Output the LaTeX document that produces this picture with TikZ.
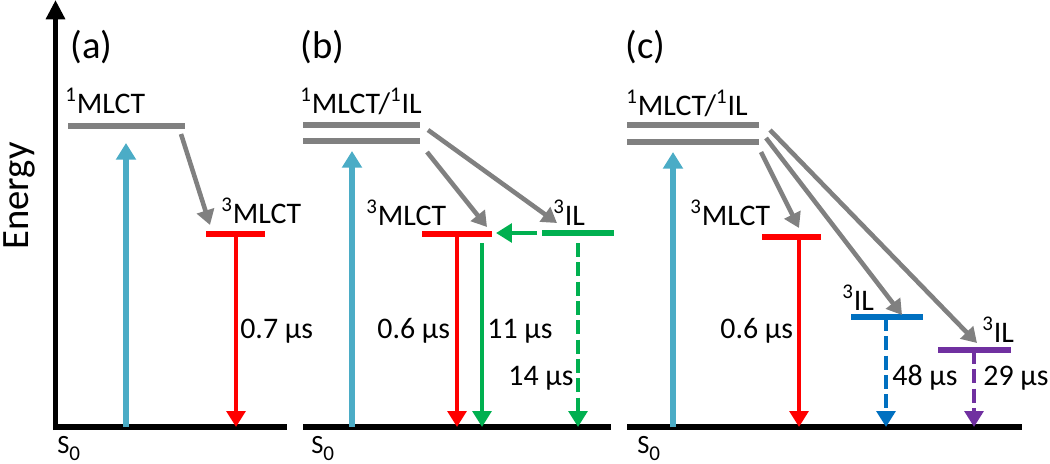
\documentclass[tikz,border=0pt]{standalone}
\usepackage{fontspec}
\setmainfont{Carlito}
\usetikzlibrary{arrows.meta}
\definecolor{excitecolor}{RGB}{75,172,198}
\definecolor{levelgray}{RGB}{128,128,128}
\definecolor{mlctred}{RGB}{255,0,0}
\definecolor{ilgreen}{RGB}{0,176,80}
\definecolor{ilblue}{RGB}{0,112,192}
\definecolor{ilpurple}{RGB}{112,48,160}
\newcommand{\groundname}{S\raisebox{-4pt}{\fontsize{12}{14}\selectfont 0}}

\begin{document}
\begin{tikzpicture}[
    x=0.02cm, y=-0.02cm,
    axis/.style={line width=3.2pt, -{Triangle[length=11pt,width=10.5pt]}},
    ground/.style={line width=3.3pt},
    level/.style={line width=3.1pt},
    excite/.style={draw=excitecolor, line width=3pt, -{Triangle[length=9.5pt,width=11pt]}},
    isc/.style={draw=levelgray, line width=2.6pt, -{Triangle[length=8.5pt,width=10pt]}},
    decay/.style={line width=2.8pt, -{Triangle[length=9pt,width=10.5pt]}},
    dashdecay/.style={decay, dash pattern=on 8pt off 3pt},
    txt/.style={anchor=base west, inner sep=0pt, font=\fontsize{17}{20}\selectfont},
    snode/.style={anchor=base west, inner sep=0pt, font=\fontsize{15}{18}\selectfont},
    panel/.style={anchor=west, inner sep=0pt, font=\fontsize{22}{26}\selectfont}
]
\useasboundingbox (0,0) rectangle (1050,463);

% Axis
\coordinate (origin) at (55.5,430);
\coordinate (top) at (55.5,0);
\draw[axis] (origin) -- (top);
\node[rotate=90, font=\fontsize{22}{26}\selectfont] (energy) at (19,196) {Energy};

% Panel (a)
\draw[ground] (53,427) coordinate (a-g0) -- (287,427) coordinate (a-g1);
\draw[level, levelgray] (68,126) coordinate (a-s0) -- (185,126) coordinate (a-s1);
\draw[level, mlctred] (206,234) coordinate (a-t0) -- (265,234) coordinate (a-t1);
\coordinate (a-up0) at (126,427);
\coordinate (a-up1) at (126,143);
\coordinate (a-isc0) at (181,134);
\coordinate (a-isc1) at (210,225);
\coordinate (a-dn0) at (236,234);
\coordinate (a-dn1) at (236,427);
\draw[excite] (a-up0) -- (a-up1);
\draw[isc] (a-isc0) -- (a-isc1);
\draw[decay, mlctred] (a-dn0) -- (a-dn1);
\node[panel] (a-name) at (70,47) {(a)};
\node[txt] (a-lbl1) at (65,113) {\textsuperscript{1}MLCT};
\node[txt] (a-lbl3) at (221,223) {\textsuperscript{3}MLCT};
\node[txt] (a-tau) at (240,338) {0.7 µs};
\node[snode] (a-s) at (57,453) {\groundname};

% Panel (b)
\draw[ground] (303,427) coordinate (b-g0) -- (611,427) coordinate (b-g1);
\draw[level, levelgray] (303,125) coordinate (b-s0) -- (420,125) coordinate (b-s1);
\draw[level, levelgray] (303,141) coordinate (b-s2) -- (420,141) coordinate (b-s3);
\draw[level, mlctred] (422,234) coordinate (b-t0) -- (492,234) coordinate (b-t1);
\draw[level, ilgreen] (542,233) coordinate (b-il0) -- (614,233) coordinate (b-il1);
\coordinate (b-up0) at (352,427);
\coordinate (b-up1) at (352,151);
\coordinate (b-isc0) at (427,152);
\coordinate (b-isc1) at (487,227);
\coordinate (b-isc2) at (428,130);
\coordinate (b-isc3) at (557,223);
\coordinate (b-ic0) at (537,233);
\coordinate (b-ic1) at (496,233);
\coordinate (b-dn0) at (457,234);
\coordinate (b-dn1) at (457,427);
\coordinate (b-dn2) at (482,243);
\coordinate (b-dn3) at (482,427);
\coordinate (b-dn4) at (578,243);
\coordinate (b-dn5) at (578,427);
\draw[excite] (b-up0) -- (b-up1);
\draw[isc] (b-isc0) -- (b-isc1);
\draw[isc] (b-isc2) -- (b-isc3);
\draw[decay, ilgreen] (b-ic0) -- (b-ic1);
\draw[decay, mlctred] (b-dn0) -- (b-dn1);
\draw[decay, ilgreen] (b-dn2) -- (b-dn3);
\draw[dashdecay, ilgreen] (b-dn4) -- (b-dn5);
\node[panel] (b-name) at (300,47) {(b)};
\node[txt] (b-lbl1) at (300,113) {\textsuperscript{1}MLCT/\textsuperscript{1}IL};
\node[txt] (b-lbl3) at (366,225) {\textsuperscript{3}MLCT};
\node[txt] (b-lbl4) at (553,225) {\textsuperscript{3}IL};
\node[txt] (b-tau1) at (377,338) {0.6 µs};
\node[txt] (b-tau2) at (487,338) {11 µs};
\node[txt] (b-tau3) at (508,385) {14 µs};
\node[snode] (b-s) at (311,453) {\groundname};

% Panel (c)
\draw[ground] (627,427) coordinate (c-g0) -- (1022,427) coordinate (c-g1);
\draw[level, levelgray] (627,125) coordinate (c-s0) -- (759,125) coordinate (c-s1);
\draw[level, levelgray] (627,142) coordinate (c-s2) -- (759,142) coordinate (c-s3);
\draw[level, mlctred] (762,237) coordinate (c-t0) -- (821,237) coordinate (c-t1);
\draw[level, ilblue] (851,317) coordinate (c-b0) -- (923,317) coordinate (c-b1);
\draw[level, ilpurple] (938,350) coordinate (c-p0) -- (1011,350) coordinate (c-p1);
\coordinate (c-up0) at (673,427);
\coordinate (c-up1) at (673,152);
\coordinate (c-isc0) at (761,152);
\coordinate (c-isc1) at (799,228);
\coordinate (c-isc2) at (766,138);
\coordinate (c-isc3) at (902,315);
\coordinate (c-isc4) at (770,130);
\coordinate (c-isc5) at (977,343);
\coordinate (c-dn0) at (799,237);
\coordinate (c-dn1) at (799,427);
\coordinate (c-dn2) at (886,317);
\coordinate (c-dn3) at (886,427);
\coordinate (c-dn4) at (974,350);
\coordinate (c-dn5) at (974,427);
\draw[excite] (c-up0) -- (c-up1);
\draw[isc] (c-isc0) -- (c-isc1);
\draw[isc] (c-isc2) -- (c-isc3);
\draw[isc] (c-isc4) -- (c-isc5);
\draw[decay, mlctred] (c-dn0) -- (c-dn1);
\draw[dashdecay, ilblue] (c-dn2) -- (c-dn3);
\draw[dashdecay, ilpurple] (c-dn4) -- (c-dn5);
\node[panel] (c-name) at (625,47) {(c)};
\node[txt] (c-lbl1) at (626,115) {\textsuperscript{1}MLCT/\textsuperscript{1}IL};
\node[txt] (c-lbl3) at (690,225) {\textsuperscript{3}MLCT};
\node[txt] (c-lbl4) at (842,310) {\textsuperscript{3}IL};
\node[txt] (c-lbl5) at (982,342) {\textsuperscript{3}IL};
\node[txt] (c-tau1) at (720,338) {0.6 µs};
\node[txt] (c-tau2) at (892,385) {48 µs};
\node[txt] (c-tau3) at (983,385) {29 µs};
\node[snode] (c-s) at (637,453) {\groundname};

\end{tikzpicture}
\end{document}
